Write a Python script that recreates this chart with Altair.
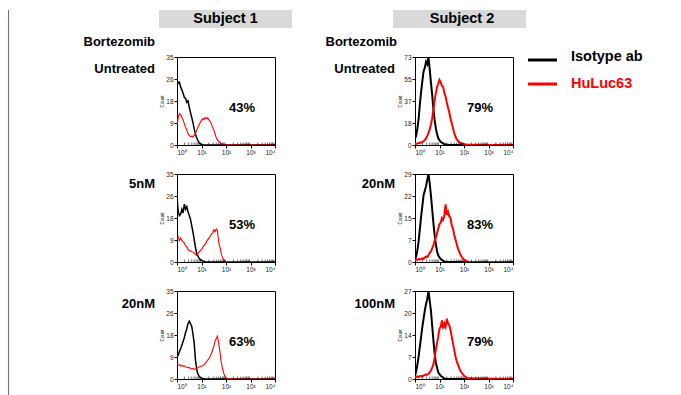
import math
import altair as alt
import pandas as pd

FONT = "Liberation Sans"

# log10 fluorescence positions (decades, 10^0 .. 10^4)
LOGX = [0.00, 0.05, 0.10, 0.15, 0.20, 0.25, 0.30, 0.35, 0.40, 0.45,
        0.50, 0.55, 0.60, 0.65, 0.70, 0.75, 0.80, 0.85, 0.90, 0.95,
        1.00, 1.05, 1.10, 1.15, 1.20, 1.25, 1.30, 1.35, 1.40, 1.45,
        1.50, 1.55, 1.60, 1.65, 1.70, 1.75, 1.80, 1.85, 1.90, 1.95,
        2.00, 2.05, 2.10, 2.15, 2.20, 4.00]

# Subject 1, untreated
S1_UNT_ISO = [26, 24.5, 25, 23, 22, 20.5, 19, 18.5, 17, 17.5,
              15, 13, 11, 9, 6.5, 4.5, 3, 1.8, 1, 0.5,
              0.3, 0.1, 0, 0, 0, 0, 0, 0, 0, 0,
              0, 0, 0, 0, 0, 0, 0, 0, 0, 0,
              0, 0, 0, 0, 0, 0]
S1_UNT_HU = [8, 11, 12.5, 12, 11, 10, 8.5, 7, 6, 4.5,
             3.8, 3.3, 3.5, 3.2, 3.8, 4.5, 5.8, 7, 8, 9,
             9.8, 10.5, 10, 11, 10.5, 10.8, 10, 9.5, 8.5, 7,
             6, 4.5, 3, 2, 1.5, 1, 0.6, 0.3, 0.1, 0,
             0, 0, 0, 0, 0, 0]
# Subject 2, untreated
S2_UNT_ISO = [5, 8, 14, 22, 34, 44, 53, 61, 64, 69,
              67, 73, 63, 52, 42, 30, 21, 14, 9, 5.5,
              4, 2.5, 2, 1.2, 0.8, 0.5, 0.3, 0.2, 0, 0,
              0, 0, 0, 0, 0, 0, 0, 0, 0, 0,
              0, 0, 0, 0, 0, 0]
S2_UNT_HU = [1, 1, 1.2, 1.5, 1.8, 2, 2.5, 3.2, 4, 5.5,
             7.5, 10, 13, 17, 22, 29, 37, 43, 48, 51,
             54, 52, 49, 48, 43, 40, 35, 31, 27, 22,
             18, 14, 10, 7, 5, 3.5, 2.5, 1.8, 1.2, 1,
             0.8, 0.5, 0.4, 0.3, 0.3, 0]
# Subject 1, 5nM
S1_5NM_ISO = [26, 20, 18.5, 19, 21, 19.5, 23, 21, 22, 20,
              18.5, 17, 14.5, 12, 9, 6, 3.5, 2.5, 1.5, 1,
              0.7, 0.4, 0.3, 0.1, 0, 0, 0, 0, 0, 0,
              0, 0, 0, 0, 0, 0, 0, 0, 0, 0,
              0, 0, 0, 0, 0, 0]
S1_5NM_HU = [9, 10, 8.5, 9.5, 8.5, 8, 7.5, 6.5, 6, 5,
             4.5, 4.5, 4, 4, 3.5, 3, 2.7, 3.2, 4, 4.5,
             5, 5.8, 6.5, 7, 8, 8.8, 9.5, 10.2, 11, 11.5,
             12.8, 12, 13.2, 12.5, 8, 6, 3.5, 2, 1, 0.5,
             0.2, 0, 0, 0, 0, 0]
# Subject 2, 20nM
S2_20NM_ISO = [0.8, 2, 4, 7, 11, 15, 18.5, 22, 23.5, 25,
               27, 29, 26, 22, 17.5, 13, 9, 6, 3.5, 2.2,
               1.5, 1, 0.7, 0.4, 0.2, 0.1, 0, 0, 0, 0,
               0, 0, 0, 0, 0, 0, 0, 0, 0, 0,
               0, 0, 0, 0, 0, 0]
S2_20NM_HU = [0.5, 0.8, 0.7, 1, 0.8, 1, 1.2, 1, 1.5, 1.8,
              1.6, 2.2, 3, 3.5, 4.5, 5.5, 7, 8, 9.5, 11,
              12.5, 13, 14.5, 14, 15.5, 19, 15.5, 16.5, 15, 14.5,
              12, 11, 9, 7.5, 6, 4.5, 3.5, 2.5, 1.8, 1.2,
              0.8, 0.6, 0.4, 0.2, 0.1, 0]
# Subject 1, 20nM
S1_20NM_ISO = [10, 9.5, 11, 12, 13.5, 15, 16.5, 18.5, 20, 22,
               23, 22, 21, 18, 14.5, 8, 4, 2, 1.2, 0.6,
               0.4, 0.2, 0.1, 0, 0, 0, 0, 0, 0, 0,
               0, 0, 0, 0, 0, 0, 0, 0, 0, 0,
               0, 0, 0, 0, 0, 0]
S1_20NM_HU = [6, 5.5, 5.8, 5.2, 5.5, 5, 5.2, 4.8, 4.7, 4.5,
              4.6, 4.2, 4, 4.2, 3.8, 4, 4.3, 4.5, 4.8, 5,
              5.2, 5.3, 5.6, 6.2, 6.8, 7.5, 8, 9, 10, 11.5,
              13, 15, 16, 17, 14.5, 11, 7, 4.5, 2.5, 1.2,
              0.6, 0.3, 0.1, 0, 0, 0]
# Subject 2, 100nM
S2_100NM_ISO = [0.8, 2.5, 4.5, 7, 10, 13, 16, 18.5, 21, 23,
                24.5, 27, 24, 21, 16.5, 12, 8, 5, 3.5, 2,
                1.5, 1, 0.7, 0.4, 0.2, 0.1, 0, 0, 0, 0,
                0, 0, 0, 0, 0, 0, 0, 0, 0, 0,
                0, 0, 0, 0, 0, 0]
S2_100NM_HU = [0.5, 0.6, 0.8, 0.6, 0.9, 1, 0.8, 1.1, 1.2, 1.4,
               1.3, 1.6, 2, 2.6, 3.5, 4.5, 6.5, 9, 11, 13,
               15.5, 16, 18, 15.5, 17, 16, 18.5, 17, 16.5, 15,
               13, 11, 9, 7, 5.5, 4.5, 3.5, 2.5, 2, 1.5,
               1, 0.7, 0.5, 0.3, 0.2, 0]

YTICKS_35 = [0, 8.75, 17.5, 26.25, 35]
YTICKS_73 = [0, 18.25, 36.5, 54.75, 73]
YTICKS_29 = [0, 7.25, 14.5, 21.75, 29]
YTICKS_27 = [0, 6.75, 13.5, 20.25, 27]

XTICKS = [0, 1, 2, 3, 4]
XTICK_LABELS = ["10\u2070", "10\u00b9", "10\u00b2", "10\u00b3", "10\u2074"]
MINOR_TICKS = [round(math.log10(m * 10 ** k), 4) for k in range(4) for m in range(2, 10)]

SERIES = ["Isotype ab", "HuLuc63"]
COLORS = ["black", "#FF0000"]
PCTS = ["43%", "79%", "53%", "83%", "63%", "79%"]
ROW_LABELS = ["Untreated", "Untreated", "5nM", "20nM", "20nM", "100nM"]
SUBJECTS = ["Subject 1", "Subject 2"]
DRUG = "Bortezomib"

LABEL_EXPR = "[" + ",".join("'" + s + "'" for s in XTICK_LABELS) + "][datum.value]"

W, H = 98, 88


def one(t):
    return alt.Chart(pd.DataFrame({"t": [t]}))


def txt(t, x, y, size, align="left", color="black", weight="bold"):
    return one(t).mark_text(font=FONT, fontSize=size, fontWeight=weight, align=align,
                            baseline="middle", color=color).encode(
        x=alt.value(x), y=alt.value(y), text="t:N")


def panel(iso, hu, yticks, pct, row_label, label_x, label_y, sw, extras=()):
    n = len(LOGX)
    df = pd.DataFrame({"lx": LOGX + LOGX, "count": iso + hu,
                       "series": [SERIES[0]] * n + [SERIES[1]] * n})
    xenc = alt.X("lx:Q", scale=alt.Scale(domain=[0, 4], nice=False, zero=False),
                 axis=alt.Axis(values=XTICKS, labelExpr=LABEL_EXPR, title=None,
                               tickSize=3, labelPadding=1, labelFontSize=6.5))
    yenc = alt.Y("count:Q", scale=alt.Scale(domain=[0, yticks[-1]], nice=False),
                 axis=alt.Axis(values=yticks, format="d", title="Count", tickSize=3,
                               labelPadding=1, titlePadding=1))
    base = alt.Chart(df).encode(x=xenc, y=yenc)
    iso_l = base.transform_filter(alt.datum.series == SERIES[0]).mark_line(
        color=COLORS[0], strokeWidth=sw[0], clip=True)
    hu_l = base.transform_filter(alt.datum.series == SERIES[1]).mark_line(
        color=COLORS[1], strokeWidth=sw[1], clip=True)
    minor = alt.Chart(pd.DataFrame({"lx": MINOR_TICKS})).mark_rule(
        color="black", strokeWidth=0.6).encode(x=xenc, y=alt.value(H - 2.5), y2=alt.value(H))
    layers = [iso_l, hu_l, minor,
              txt(pct, 65, 51, 13, align="center"),
              txt(row_label, label_x, label_y, 13, align="right")]
    layers += list(extras)
    return alt.layer(*layers).properties(width=W, height=H)


def header(label, x1, x2, tx):
    rect = one(label).mark_rect(color="#D9D9D9").encode(
        x=alt.value(x1), x2=alt.value(x2), y=alt.value(-47), y2=alt.value(-29))
    return [rect, txt(label, tx, -38.5, 14.5, align="center")]


purple = one("border").mark_rule(color="#7E63A0", strokeWidth=2).encode(
    x=alt.value(-169), y=alt.value(-47), y2=alt.value(345))

legend_layers = []
for i, (s, c) in enumerate(zip(SERIES, COLORS)):
    yy = 3 + 24 * i
    legend_layers.append(one(s).mark_rule(color=c, strokeWidth=3).encode(
        x=alt.value(113), x2=alt.value(142), y=alt.value(yy)))
    legend_layers.append(txt(s, 156, yy - 3 + 3 * i, 14.5, color=c))

p1 = panel(S1_UNT_ISO, S1_UNT_HU, YTICKS_35, PCTS[0], ROW_LABELS[0], -22, 12, (1.5, 1.1),
           extras=header(SUBJECTS[0], -18, 115, 48.5) + [txt(DRUG, -22, -15, 13, align="right"), purple])
p2 = panel(S2_UNT_ISO, S2_UNT_HU, YTICKS_73, PCTS[1], ROW_LABELS[1], -20, 12, (2, 2),
           extras=header(SUBJECTS[1], -22, 111, 47) + [txt(DRUG, -18, -15, 13, align="right")] + legend_layers)
p3 = panel(S1_5NM_ISO, S1_5NM_HU, YTICKS_35, PCTS[2], ROW_LABELS[2], -22, 10, (1.5, 1.1))
p4 = panel(S2_20NM_ISO, S2_20NM_HU, YTICKS_29, PCTS[3], ROW_LABELS[3], -20, 10, (2, 2))
p5 = panel(S1_20NM_ISO, S1_20NM_HU, YTICKS_35, PCTS[4], ROW_LABELS[4], -22, 13, (1.5, 1.1))
p6 = panel(S2_100NM_ISO, S2_100NM_HU, YTICKS_27, PCTS[5], ROW_LABELS[5], -20, 13, (2, 2))

chart = alt.concat(p1, p2, p3, p4, p5, p6, columns=2,
                   spacing={"row": 29, "column": 140}, bounds="flush").resolve_scale(
    x="independent", y="independent").properties(
    padding={"left": -2, "top": 0, "right": 0, "bottom": 0},
    background="white").configure_view(
    stroke="black", strokeWidth=1).configure_axis(
    labelFont=FONT, titleFont=FONT, labelFontSize=6.5, titleFontSize=4.5,
    labelColor="#222", titleColor="#222", tickColor="black", domainColor="black",
    grid=False, titleFontWeight="normal")

chart.save("out.html", embed_options={"renderer": "svg", "actions": False})
